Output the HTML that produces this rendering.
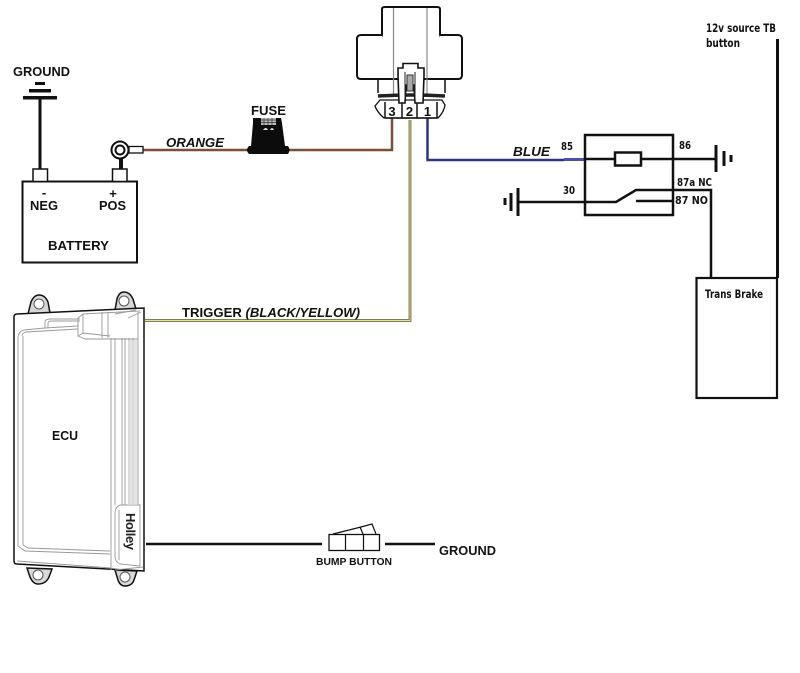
<!DOCTYPE html>
<html><head><meta charset="utf-8"><style>
html,body{margin:0;padding:0;background:#fff;width:800px;height:673px;overflow:hidden}
svg{display:block}
text{font-family:"Liberation Sans",sans-serif;font-weight:bold;fill:#111}
text.d{font-family:"DejaVu Sans",sans-serif}
</style></head><body>
<svg width="800" height="673" viewBox="0 0 800 673" xmlns="http://www.w3.org/2000/svg">
<rect width="800" height="673" fill="#fff"/>
<!-- wires -->
<path d="M143 150H392V118" fill="none" stroke="#7a4f38" stroke-width="2.5"/>
<path d="M145 320.500H410V120" fill="none" stroke="#6f6a3c" stroke-width="2.800"/>
<path d="M145 320.500H410V120" fill="none" stroke="#e8e0a0" stroke-width="0.900"/>
<path d="M427.500 118V160H564" fill="none" stroke="#2c3580" stroke-width="2.500"/>
<path d="M564 159.500H585" stroke="#4a50b0" stroke-width="3"/>
<!-- ground / battery -->
<g fill="#111">
<rect x="35" y="82" width="10" height="3"/><rect x="29" y="89" width="22" height="3.500"/><rect x="23" y="96" width="34" height="3.500"/>
<rect x="38.500" y="99" width="3" height="70"/>
<rect x="119" y="158" width="4" height="11"/>
</g>
<rect x="22.500" y="181.500" width="114.500" height="81" fill="#fff" stroke="#111" stroke-width="2"/>
<rect x="33" y="169" width="14.500" height="12.500" fill="#fff" stroke="#111" stroke-width="1.500"/>
<rect x="112.500" y="169" width="14.500" height="12.500" fill="#fff" stroke="#111" stroke-width="1.500"/>
<rect x="129" y="146.500" width="14" height="6.500" fill="#fff" stroke="#111" stroke-width="1.300"/>
<circle cx="120" cy="150" r="8.500" fill="#fff" stroke="#111" stroke-width="2"/>
<circle cx="120" cy="150" r="4.500" fill="#fff" stroke="#111" stroke-width="2"/>
<text x="13" y="76" font-size="13" textLength="57" lengthAdjust="spacingAndGlyphs">GROUND</text>
<text x="44" y="197" font-size="13" text-anchor="middle">-</text>
<text x="113" y="198" font-size="13" text-anchor="middle">+</text>
<text x="30" y="210" font-size="13" textLength="28" lengthAdjust="spacingAndGlyphs">NEG</text>
<text x="99" y="210" font-size="13" textLength="27" lengthAdjust="spacingAndGlyphs">POS</text>
<text x="48" y="250" font-size="13" textLength="61" lengthAdjust="spacingAndGlyphs">BATTERY</text>
<text x="166" y="147" font-size="13" font-style="italic" textLength="58" lengthAdjust="spacingAndGlyphs">ORANGE</text>
<!-- fuse -->
<text x="251" y="115" font-size="13" textLength="35" lengthAdjust="spacingAndGlyphs">FUSE</text>
<path d="M253 118H281L282 123L285 146H288Q291 150 288 154H249Q245 150 249 146H251L253 123Z" fill="#0c0c0c"/>
<rect x="261" y="118" width="15" height="7" fill="#bbb"/>
<path d="M261 120H276M261 122.500H276M264 118V125M268 118V125M272 118V125" stroke="#333" stroke-width=".7"/>
<path d="M263 130Q266 126 268 130ZM270 130Q272 126 274 130Z" fill="#ddd"/>
<!-- relay top -->
<g fill="#fff" stroke="#111">
<path d="M382 79V9Q382 7 385 7H437Q440 7 440 9V79" stroke-width="2"/>
<path d="M382 35H361Q357 35 357 39V75Q357 79 361 79H398" stroke-width="2"/>
<path d="M440 35H458Q462 35 462 39V75Q462 79 458 79H424" stroke-width="2"/>
<path d="M378 79V93M445 79V93" stroke-width="1.500"/>
</g>
<path d="M393.500 8V94M427 8V94" stroke="#888" stroke-width="1.200"/>
<path d="M378 96Q411 94 445 96" fill="none" stroke="#222" stroke-width="3.500"/>
<path d="M380 100H442L445 105Q444 112 438 118H384Q377 112 375 106Z" fill="#fff" stroke="#111" stroke-width="1.300"/>
<path d="M385 102V118M402 102V118M417 102V118M437 102V118M385 118H437" stroke="#111" stroke-width="1.500" fill="none"/>
<path d="M398 68H403V63.500H418V68H424V76L423 103H415L414 85H406L405 103H399L398 76Z" fill="#fff" stroke="#111" stroke-width="1.600"/>
<path d="M405 72V100M415 72V100" stroke="#222" stroke-width="1"/>
<path d="M407 75H413V91H407Z" fill="#aaa" stroke="#333" stroke-width="1"/>
<text x="392" y="116" font-size="13" text-anchor="middle">3</text>
<text x="409.500" y="116" font-size="13" text-anchor="middle">2</text>
<text x="427.500" y="116" font-size="13" text-anchor="middle">1</text>
<!-- relay diagram -->
<rect x="585" y="135" width="88" height="80" fill="#fff" stroke="#111" stroke-width="2.500"/>
<path d="M585 159H716M518 202H616L636 190H711V277M636 201H674" fill="none" stroke="#111" stroke-width="2.500"/>
<rect x="615" y="152.500" width="26" height="13" fill="#fff" stroke="#111" stroke-width="2.500"/>
<path d="M716 145V172M724 151V166M731 155V162M518 188V216M511 193V211M505 198V205" stroke="#111" stroke-width="3" fill="none"/>
<text x="513" y="156" font-size="13" font-style="italic" textLength="37" lengthAdjust="spacingAndGlyphs">BLUE</text>
<text class="d" x="561" y="150" font-size="11" textLength="12" lengthAdjust="spacingAndGlyphs">85</text>
<text class="d" x="679" y="149" font-size="11" textLength="12" lengthAdjust="spacingAndGlyphs">86</text>
<text class="d" x="563" y="194" font-size="11" textLength="12" lengthAdjust="spacingAndGlyphs">30</text>
<text class="d" x="677" y="186" font-size="11" textLength="35" lengthAdjust="spacingAndGlyphs">87a NC</text>
<text class="d" x="675" y="204" font-size="11" textLength="33" lengthAdjust="spacingAndGlyphs">87 NO</text>
<!-- trans brake -->
<rect x="696.500" y="278" width="80.500" height="120" fill="#fff" stroke="#111" stroke-width="2.200"/>
<rect x="776" y="39" width="3" height="239" fill="#111"/>
<text class="d" x="706" y="32" font-size="11.500" textLength="70" lengthAdjust="spacingAndGlyphs">12v source TB</text>
<text class="d" x="706" y="47" font-size="11.500" textLength="34" lengthAdjust="spacingAndGlyphs">button</text>
<text class="d" x="705" y="298" font-size="11.500" textLength="58" lengthAdjust="spacingAndGlyphs">Trans Brake</text>
<!-- ecu tabs -->
<g fill="#d8d8d8" stroke="#111" stroke-width="1.500">
<path d="M28 314L31 302Q34 295 39 295Q45 295 48 302L50 313Z"/>
<path d="M115 310L117 299Q119 292 124 292Q130 292 133 299L136 309Z"/>
<path d="M27 568L30 577Q33 584 38 584Q46 584 49 577L52 569Z"/>
<path d="M115 570L118 580Q120 586 125 586Q132 586 134 580L137 571Z"/>
</g>
<g fill="#fff" stroke="#555" stroke-width="1">
<circle cx="39" cy="304" r="5"/><circle cx="124" cy="301" r="5"/><circle cx="38" cy="575" r="5"/><circle cx="125" cy="577" r="5"/>
</g>
<!-- ecu -->
<path d="M17 314L144 308V571L17 564Q14 564 14 561V317Q14 314 17 314Z" fill="#fff" stroke="#111" stroke-width="1.500"/>
<g fill="none" stroke="#999" stroke-width="0.900">
<path d="M18 337Q19 331 24 330L45 328L78 326M22 336Q22 333 26 332L78 329M18 337V546L25 551L110 554M23 336V545L28 548L110 551"/>
<path d="M45 328V322Q45 319 50 319H80M48 328V323Q48 321 52 321H80"/>
<path d="M78 318L83 314V333L78 336ZM83 314L140 311M78 336L85 339H138M83 333L110 336M102 312V338M108 312V338"/>
<path d="M111 338V570M115 338V505M122 338V505M125 338V505M129 338V505M133 338V505M138 312V505"/>
<path d="M115 314L136 310M128 318L141 312"/>
<path d="M115 570L143 567M115 514Q115 506 121 505H140V566M115 514V556Q115 562 120 564L140 566M119 510V560"/>
<path d="M17 561L111 568"/>
</g>
<path d="M128 340H137V505H128Z" fill="#ddd" opacity=".8"/>
<text transform="translate(126,513) rotate(90)" font-size="13" x="0" y="0" textLength="37" lengthAdjust="spacing" style="fill:#222">Holley</text>
<text x="52" y="440" font-size="13" textLength="26" lengthAdjust="spacingAndGlyphs">ECU</text>
<text x="182" y="317" font-size="13" textLength="178" lengthAdjust="spacingAndGlyphs">TRIGGER <tspan font-style="italic">(BLACK/YELLOW)</tspan></text>
<!-- bump -->
<path d="M146 544H322M385 544H435" stroke="#111" stroke-width="2.500"/>
<rect x="329" y="534.500" width="50.500" height="16" fill="#fff" stroke="#111" stroke-width="1.300"/>
<path d="M345.500 534.500V550.500M363.500 534.500V550.500M333 534L361 527L372 524L376 534M360 527L363 534" fill="none" stroke="#111" stroke-width="1.200"/>
<text x="316" y="565" font-size="10.500" textLength="76" lengthAdjust="spacingAndGlyphs">BUMP BUTTON</text>
<text x="439" y="555" font-size="13" textLength="57" lengthAdjust="spacingAndGlyphs">GROUND</text>
</svg>
</body></html>
